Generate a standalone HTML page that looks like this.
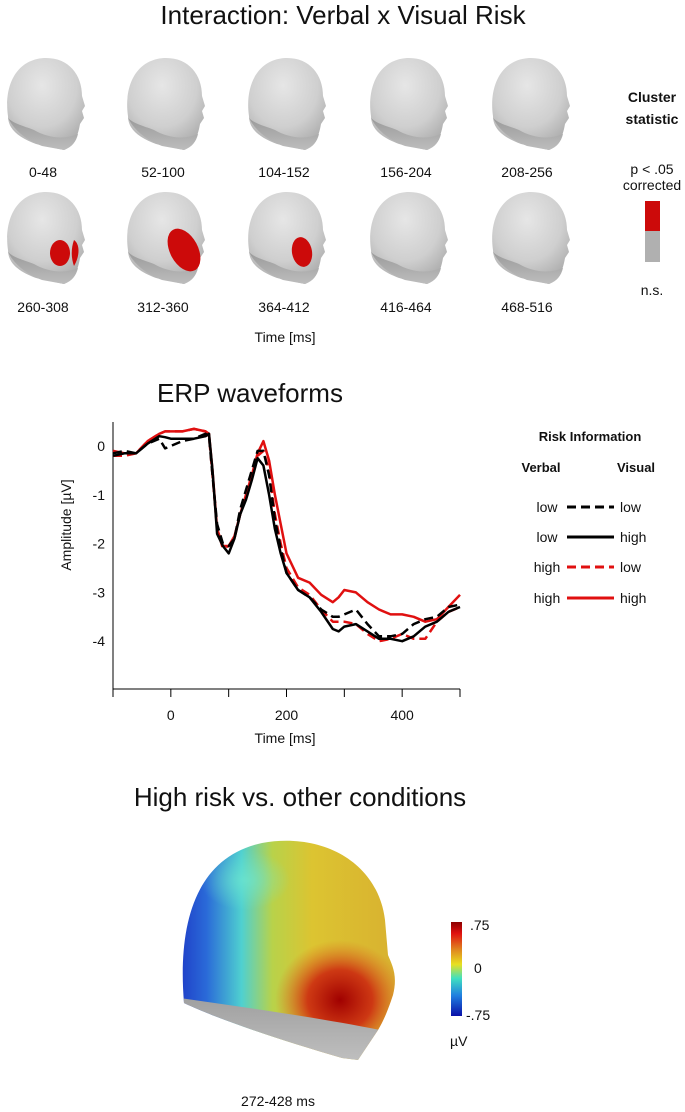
<!DOCTYPE html>
<html><head><meta charset="utf-8">
<style>
body{margin:0;background:#fff;width:685px;height:1112px;overflow:hidden;font-family:"Liberation Sans",sans-serif}
svg{display:block}
text{font-family:"Liberation Sans",sans-serif;fill:#111}
</style></head>
<body>
<svg id="root" width="685" height="1112" viewBox="0 0 685 1112">
<defs>
<radialGradient id="headG" cx="0.45" cy="0.3" r="0.75">
<stop offset="0" stop-color="#e6e6e6"/><stop offset="0.6" stop-color="#cfcfcf"/><stop offset="1" stop-color="#a8a8a8"/>
</radialGradient>
<linearGradient id="jawG" x1="0" y1="0" x2="0" y2="1"><stop offset="0" stop-color="#9a9a9a"/><stop offset="1" stop-color="#bdbdbd"/></linearGradient>
<g id="head">
<path d="M6,62 C2,35 12,6 42,4 C66,3 80,20 80,42 L83,52 L80,57 L82,64 L78,70 C76,82 72,92 62,96 L34,90 C18,84 6,76 6,62 Z" fill="url(#headG)"/>
<path d="M6,64 C12,76 24,86 40,92 L62,96 C70,93 74,88 76,80 C62,86 46,84 32,76 C22,72 12,70 6,64 Z" fill="url(#jawG)"/>
</g>
<linearGradient id="topoH" x1="0" y1="0" x2="1" y2="0">
<stop offset="0" stop-color="#1f3fc8"/><stop offset="0.12" stop-color="#2a6ad8"/><stop offset="0.28" stop-color="#4fd0d0"/><stop offset="0.42" stop-color="#b8d24a"/><stop offset="0.6" stop-color="#dcc431"/><stop offset="1" stop-color="#d8b030"/>
</linearGradient>
<radialGradient id="hot" cx="0.5" cy="0.5" r="0.5"><stop offset="0" stop-color="#a00000"/><stop offset="0.5" stop-color="#cc2a10" stop-opacity="0.9"/><stop offset="1" stop-color="#dd6a20" stop-opacity="0"/></radialGradient>
<radialGradient id="cyanSpot" cx="0.5" cy="0.5" r="0.5"><stop offset="0" stop-color="#6fe8d0"/><stop offset="1" stop-color="#6fe8d0" stop-opacity="0"/></radialGradient>
<linearGradient id="greyJ" x1="0" y1="0" x2="0" y2="1"><stop offset="0" stop-color="#a0a0a0"/><stop offset="1" stop-color="#c8c8c8"/></linearGradient>
<linearGradient id="cbar" x1="0" y1="0" x2="0" y2="1">
<stop offset="0" stop-color="#8b0000"/><stop offset="0.12" stop-color="#e01010"/><stop offset="0.3" stop-color="#e08a20"/><stop offset="0.45" stop-color="#e8e020"/><stop offset="0.6" stop-color="#40e0c0"/><stop offset="0.78" stop-color="#2080e0"/><stop offset="1" stop-color="#0a10a8"/>
</linearGradient>
</defs>

<text x="343" y="24" font-size="26" text-anchor="middle">Interaction: Verbal x Visual Risk</text>

<g>
<use href="#head" x="2" y="54"/>
<use href="#head" x="122" y="54"/>
<use href="#head" x="243" y="54"/>
<use href="#head" x="365" y="54"/>
<use href="#head" x="487" y="54"/>
<use href="#head" x="2" y="188"/>
<use href="#head" x="122" y="188"/>
<use href="#head" x="243" y="188"/>
<use href="#head" x="365" y="188"/>
<use href="#head" x="487" y="188"/>
<ellipse cx="60" cy="253" rx="10" ry="13" fill="#cc0a0a"/>
<path d="M74,240 C80,244 80,256 74,266 C71,258 71,248 74,240Z" fill="#cc0a0a"/>
<ellipse cx="184" cy="250" rx="14" ry="23" transform="rotate(-28 184 250)" fill="#cc0a0a"/>
<ellipse cx="302" cy="252" rx="10" ry="15" transform="rotate(-10 302 252)" fill="#cc0a0a"/>
</g>
<g font-size="14" text-anchor="middle">
<text x="43" y="177">0-48</text><text x="163" y="177">52-100</text><text x="284" y="177">104-152</text><text x="406" y="177">156-204</text><text x="527" y="177">208-256</text>
<text x="43" y="312">260-308</text><text x="163" y="312">312-360</text><text x="284" y="312">364-412</text><text x="406" y="312">416-464</text><text x="527" y="312">468-516</text>
<text x="285" y="342">Time [ms]</text>
</g>
<g font-size="14" text-anchor="middle">
<text x="652" y="102" font-weight="bold">Cluster</text>
<text x="652" y="124" font-weight="bold">statistic</text>
<text x="652" y="174">p &lt; .05</text>
<text x="652" y="190">corrected</text>
<rect x="645" y="201" width="15" height="30" fill="#cc0a0a"/>
<rect x="645" y="231" width="15" height="31" fill="#b0b0b0"/>
<text x="652" y="295">n.s.</text>
</g>

<text x="250" y="402" font-size="26" text-anchor="middle">ERP waveforms</text>
<g id="chart"></g>

<g font-size="14">
<text x="590" y="441" text-anchor="middle" font-weight="bold" font-size="13">Risk Information</text>
<text x="541" y="472" text-anchor="middle" font-weight="bold" font-size="13">Verbal</text>
<text x="636" y="472" text-anchor="middle" font-weight="bold" font-size="13">Visual</text>
<text x="547" y="512" text-anchor="middle">low</text><line x1="567" y1="507" x2="614" y2="507" stroke="#000" stroke-width="3" stroke-dasharray="9,5"/><text x="620" y="512">low</text>
<text x="547" y="542" text-anchor="middle">low</text><line x1="567" y1="537" x2="614" y2="537" stroke="#000" stroke-width="3"/><text x="620" y="542">high</text>
<text x="547" y="572" text-anchor="middle">high</text><line x1="567" y1="567" x2="614" y2="567" stroke="#e01010" stroke-width="3" stroke-dasharray="9,5"/><text x="620" y="572">low</text>
<text x="547" y="603" text-anchor="middle">high</text><line x1="567" y1="598" x2="614" y2="598" stroke="#e01010" stroke-width="3"/><text x="620" y="603">high</text>
</g>

<text x="300" y="806" font-size="26" text-anchor="middle">High risk vs. other conditions</text>
<g>
<clipPath id="hc"><path d="M184,1003 C178,930 192,858 262,843 C322,832 378,862 385,920 L388,955 C392,965 398,975 393,995 C388,1010 384,1020 378,1030 L358,1060 L342,1058 C280,1040 220,1020 184,1003 Z"/></clipPath>
<g clip-path="url(#hc)">
<rect x="180" y="830" width="220" height="240" fill="url(#topoH)"/>
<ellipse cx="245" cy="880" rx="45" ry="30" fill="url(#cyanSpot)" opacity="0.7"/>
<ellipse cx="340" cy="1000" rx="65" ry="60" fill="url(#hot)"/>
<path d="M180,998 C250,1008 320,1018 380,1030 L380,1080 L180,1080 Z" fill="url(#greyJ)"/>
</g>
</g>
<g font-size="14">
<rect x="451" y="922" width="11" height="94" fill="url(#cbar)"/>
<text x="470" y="930">.75</text><text x="474" y="973">0</text><text x="466" y="1020">-.75</text>
<text x="450" y="1046">µV</text>
</g>
<text x="278" y="1106" font-size="14" text-anchor="middle">272-428 ms</text>
</svg>
<script>
const times=[-100,-80,-60,-40,-20,-10,0,20,40,60,66,72,80,90,100,110,120,130,140,150,160,170,180,190,200,220,240,260,280,290,300,320,340,360,380,400,420,440,460,480,500];
const lowLow=[-0.15,-0.1,-0.15,0.05,0.15,-0.05,0.0,0.1,0.15,0.25,0.2,-0.6,-1.6,-2.0,-2.05,-1.9,-1.3,-0.9,-0.5,-0.1,-0.1,-0.6,-1.5,-2.1,-2.6,-2.95,-3.1,-3.35,-3.5,-3.5,-3.45,-3.35,-3.65,-3.9,-3.9,-3.85,-3.65,-3.55,-3.5,-3.3,-3.25];
const lowHigh=[-0.2,-0.15,-0.15,0.05,0.2,0.18,0.15,0.15,0.15,0.2,0.25,-0.5,-1.8,-2.05,-2.2,-1.9,-1.4,-1.1,-0.7,-0.25,-0.4,-1.0,-1.7,-2.2,-2.6,-2.95,-3.1,-3.4,-3.75,-3.8,-3.7,-3.65,-3.8,-3.95,-3.95,-4.0,-3.9,-3.7,-3.6,-3.4,-3.3];
const highLow=[-0.2,-0.2,-0.15,0.1,0.25,0.3,0.3,0.3,0.35,0.3,0.2,-0.6,-1.7,-2.1,-2.05,-1.9,-1.4,-1.0,-0.6,-0.2,-0.1,-0.5,-1.4,-2.0,-2.5,-2.9,-3.05,-3.35,-3.6,-3.6,-3.6,-3.65,-3.85,-4.0,-3.95,-3.85,-3.95,-3.95,-3.6,-3.4,-3.3];
const highHigh=[-0.1,-0.15,-0.15,0.1,0.25,0.3,0.3,0.3,0.35,0.3,0.25,-0.5,-1.7,-2.05,-2.05,-1.85,-1.4,-1.0,-0.6,-0.15,0.1,-0.3,-1.0,-1.6,-2.2,-2.7,-2.8,-3.05,-3.2,-3.1,-2.95,-3.0,-3.2,-3.35,-3.45,-3.45,-3.5,-3.6,-3.55,-3.3,-3.05];
const xTicks=[0,200,400];
const yTicks=[0,-1,-2,-3,-4];
const NS='http://www.w3.org/2000/svg';
const x0=113,x1=460,yTop=422,yBot=689;
function xs(t){return x0+(t+100)/600*(x1-x0);}
function ys(v){return 446+(0-v)*48.8;}
const g=document.getElementById('chart');
function mk(tag,attrs){const e=document.createElementNS(NS,tag);for(const k in attrs)e.setAttribute(k,attrs[k]);g.appendChild(e);return e;}
let a=mk('line',{x1:x0,y1:yTop,x2:x0,y2:yBot,stroke:'#000','stroke-width':1});


a=mk('line',{x1:x0,y1:yBot,x2:x1,y2:yBot,stroke:'#000','stroke-width':1});


for(let t=-100;t<=500;t+=100){const l=mk('line',{x1:xs(t),y1:yBot,x2:xs(t),y2:yBot+8,stroke:'#000'});

}
xTicks.forEach(t=>{const e=mk('text',{x:xs(t),y:720,'font-size':14,'text-anchor':'middle'});e.textContent=t;

});
yTicks.forEach(v=>{const e=mk('text',{x:x0-8,y:ys(v)+5,'font-size':14,'text-anchor':'end'});e.textContent=v;

});
let e=mk('text',{x:285,y:743,'font-size':14,'text-anchor':'middle'});e.textContent='Time [ms]';


e=mk('text',{x:0,y:0,'font-size':14,'text-anchor':'middle',transform:'translate(71,525) rotate(-90)'});e.textContent='Amplitude [µV]';


function line(vals,color,dash,name){const d=vals.map((v,i)=>(i?'L':'M')+xs(times[i]).toFixed(1)+','+ys(v).toFixed(1)).join(' ');
const p=mk('path',{d:d,fill:'none',stroke:color,'stroke-width':2.5,'stroke-linejoin':'round'});if(dash)p.setAttribute('stroke-dasharray','9,5');

}
line(highLow,'#e01010',true,'series-high-low');
line(highHigh,'#e01010',false,'series-high-high');
line(lowLow,'#000',true,'series-low-low');
line(lowHigh,'#000',false,'series-low-high');
</script>
</body></html>
